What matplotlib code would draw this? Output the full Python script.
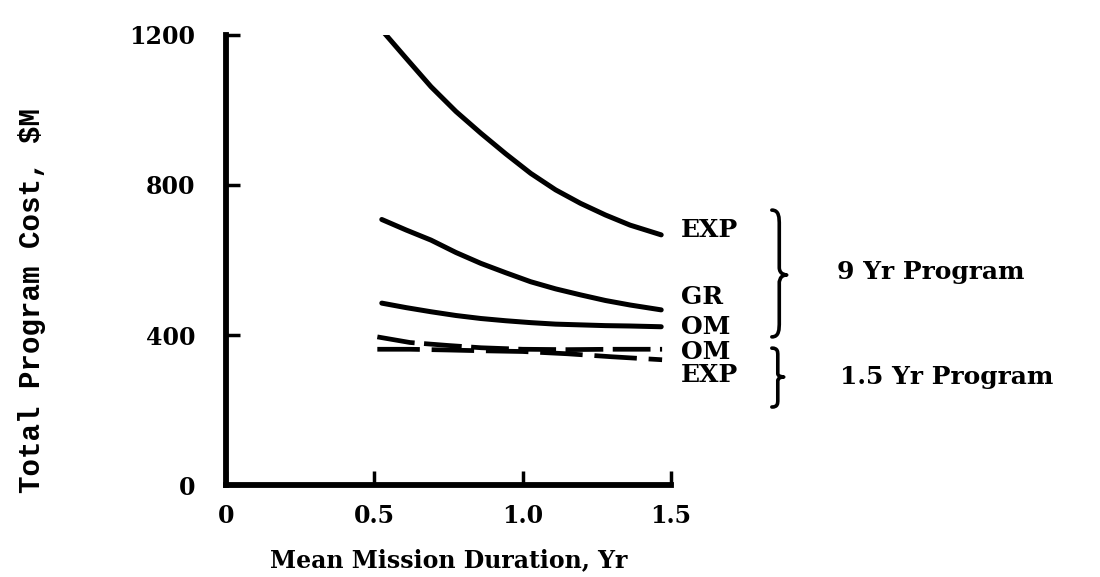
import matplotlib
matplotlib.use("Agg")
import matplotlib.pyplot as plt
from matplotlib.path import Path
from matplotlib.patches import PathPatch

# Values
duration = [0.525, 0.607, 0.691, 0.775, 0.859, 0.943, 1.027, 1.111,
            1.195, 1.279, 1.362, 1.467]
exp_9yr = [1213, 1138, 1062, 996, 938, 883, 831, 787, 751, 720, 693, 667]
gr_9yr = [708, 680, 653, 620, 591, 566, 542, 523, 507, 492, 480, 467]
om_9yr = [485, 473, 462, 452, 444, 438, 433, 429, 427, 425, 424, 422]

duration_15 = [0.51, 0.62, 0.75, 0.86, 1.0, 1.15, 1.3, 1.47]
om_15yr = [395, 380, 372, 366, 362, 361, 362, 362]
exp_15yr = [362, 362, 360, 358, 356, 350, 342, 334]

x_ticks = [0, 0.5, 1.0, 1.5]
x_labels = ["0", "0.5", "1.0", "1.5"]
y_ticks = [0, 400, 800, 1200]

serif = "DejaVu Serif"

fig = plt.figure(figsize=(11, 5.77), dpi=100)
ax = fig.add_axes([0.2055, 0.1594, 0.4045, 0.7800])

ax.plot(duration, exp_9yr, color="black", lw=3.6, solid_capstyle="round")
ax.plot(duration, gr_9yr, color="black", lw=3.6, solid_capstyle="round")
ax.plot(duration, om_9yr, color="black", lw=3.6, solid_capstyle="round")
ax.plot(duration_15, om_15yr, color="black", lw=3.4, dashes=(8, 2))
ax.plot(duration_15, exp_15yr, color="black", lw=3.4, dashes=(9, 2.5))

ax.set_xlim(0, 1.5)
ax.set_ylim(0, 1200)
for side in ["top", "right"]:
    ax.spines[side].set_visible(False)
for side in ["left", "bottom"]:
    ax.spines[side].set_linewidth(4.2)
    ax.spines[side].set_capstyle("projecting")

ax.set_xticks(x_ticks)
ax.set_xticklabels(x_labels)
ax.set_yticks(y_ticks)
ax.tick_params(direction="in", length=10, width=2.5)
ax.tick_params(axis="x", pad=14)
ax.tick_params(axis="y", pad=22)
for lab in ax.get_xticklabels() + ax.get_yticklabels():
    lab.set_fontfamily(serif)
    lab.set_fontweight("bold")
    lab.set_fontsize(17)

ax.set_xlabel("Mean Mission Duration, Yr", fontfamily=serif, fontweight="bold",
              fontsize=17, labelpad=14)
fig.text(0.029, 0.48, "Total Program Cost, $M", fontfamily="Liberation Mono",
         fontweight="bold", fontsize=21, rotation=90, ha="center", va="center")

# curve labels at the right end
lab_kw = dict(fontfamily=serif, fontweight="bold", fontsize=18, va="center",
              ha="left", clip_on=False)
ax.text(1.534, 680, "EXP", **lab_kw)
ax.text(1.534, 501, "GR", **lab_kw)
ax.text(1.534, 421, "OM", **lab_kw)
ax.text(1.534, 355, "OM", **lab_kw)
ax.text(1.534, 294, "EXP", **lab_kw)


def brace(ax, x, y0, y1, ytip, w):
    r = (y1 - y0) * 0.06
    verts = [
        (x, y1),
        (x + w * 0.5, y1), (x + w * 0.5, y1 - r), (x + w * 0.5, y1 - 2 * r),
        (x + w * 0.5, ytip + r),
        (x + w * 0.5, ytip), (x + w, ytip), (x + w, ytip),
        (x + w * 0.5, ytip), (x + w * 0.5, ytip - r), (x + w * 0.5, ytip - r),
        (x + w * 0.5, y0 + 2 * r),
        (x + w * 0.5, y0 + r), (x + w * 0.5, y0), (x, y0),
    ]
    codes = [Path.MOVETO,
             Path.CURVE4, Path.CURVE4, Path.CURVE4,
             Path.LINETO,
             Path.CURVE4, Path.CURVE4, Path.CURVE4,
             Path.CURVE4, Path.CURVE4, Path.CURVE4,
             Path.LINETO,
             Path.CURVE4, Path.CURVE4, Path.CURVE4]
    patch = PathPatch(Path(verts, codes), fill=False, lw=2.6, color="black",
                      clip_on=False, capstyle="round", joinstyle="round")
    ax.add_patch(patch)


brace(ax, 1.84, 395, 733, 560, 0.05)
brace(ax, 1.84, 208, 365, 288, 0.04)

ax.text(2.06, 568, "9 Yr Program", fontfamily=serif, fontweight="bold",
        fontsize=18, va="center", ha="left", clip_on=False)
ax.text(2.07, 288, "1.5 Yr Program", fontfamily=serif, fontweight="bold",
        fontsize=18, va="center", ha="left", clip_on=False)

fig.savefig("out.png", dpi=100)
